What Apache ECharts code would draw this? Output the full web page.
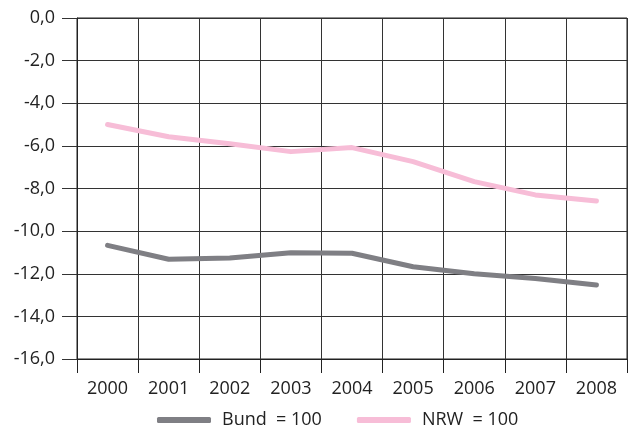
<!DOCTYPE html>
<html>
<head>
<meta charset="utf-8">
<script src="https://cdn.jsdelivr.net/npm/echarts@6/dist/echarts.min.js"></script>
<style>html,body{margin:0;padding:0;background:#fff}#c{width:630px;height:428px}</style>
</head>
<body>
<div id="c"></div>
<script>
var years = ['2000','2001','2002','2003','2004','2005','2006','2007','2008'];
var bund = [-10.67, -11.32, -11.26, -11.02, -11.04, -11.67, -12.0, -12.22, -12.53];
var nrw = [-5.0, -5.57, -5.9, -6.27, -6.08, -6.74, -7.68, -8.3, -8.59];
var seriesNames = ['Bund  = 100', 'NRW  = 100'];
var yTicks = {min: -16, max: 0, interval: 2};

var chart = echarts.init(document.getElementById('c'));
var txt = {fontFamily: 'Open Sans', fontSize: 18, color: '#222'};
chart.setOption({
  animation: false,
  grid: {left: 77, right: 3, top: 18, bottom: 69, show: true, borderColor: '#222', borderWidth: 1},
  legend: {
    top: 411, left: 157, padding: 0, itemWidth: 54, itemHeight: 6, itemGap: 35,
    icon: 'roundRect',
    textStyle: Object.assign({}, txt, {padding: [0, 0, 0, 6]}),
    data: seriesNames
  },
  xAxis: {
    type: 'category', data: years, boundaryGap: true,
    axisLine: {show: true, onZero: false, lineStyle: {color: '#222', width: 1}},
    axisTick: {show: true, inside: false, interval: 0, length: 14, lineStyle: {color: '#222', width: 1}},
    axisLabel: Object.assign({}, txt, {margin: 21}),
    splitLine: {show: true, lineStyle: {color: '#333', width: 1}}
  },
  yAxis: {
    type: 'value', min: yTicks.min, max: yTicks.max, interval: yTicks.interval,
    axisLine: {show: true, lineStyle: {color: '#222'}},
    axisTick: {show: true, length: 15, lineStyle: {color: '#333'}},
    axisLabel: Object.assign({}, txt, {margin: 22, formatter: function (v) { return v.toFixed(1).replace('.', ','); }}),
    splitLine: {show: true, lineStyle: {color: '#333', width: 1}}
  },
  series: [
    {name: seriesNames[0], type: 'line', data: bund, symbol: 'none', color: '#7f7f84',
     lineStyle: {width: 5, color: '#7f7f84', cap: 'round', join: 'round'}},
    {name: seriesNames[1], type: 'line', data: nrw, symbol: 'none', color: '#f7bdd7',
     lineStyle: {width: 5, color: '#f7bdd7', cap: 'round', join: 'round'}}
  ]
});
</script>
</body>
</html>
